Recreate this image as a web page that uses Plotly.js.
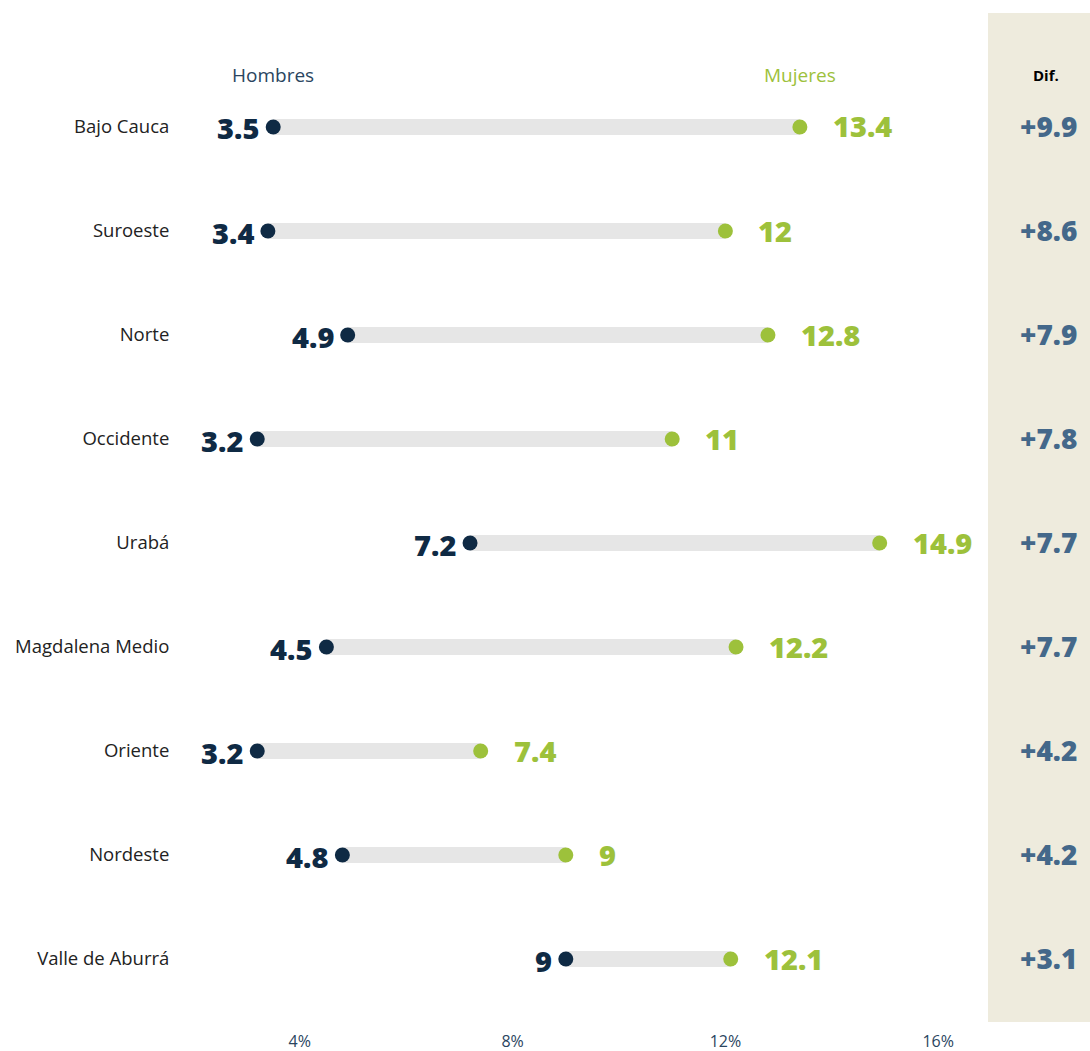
<!DOCTYPE html>
<html>
<head>
<meta charset="utf-8">
<script src="https://cdn.plot.ly/plotly-3.0.1.min.js"></script>
<style>html,body{margin:0;padding:0;background:#fff;}#chart{width:1090px;height:1051px;}</style>
</head>
<body>
<div id="chart"></div>
<script>
const regions = ['Bajo Cauca','Suroeste','Norte','Occidente','Urabá','Magdalena Medio','Oriente','Nordeste','Valle de Aburrá'];
const hombres = [3.5, 3.4, 4.9, 3.2, 7.2, 4.5, 3.2, 4.8, 9];
const mujeres = [13.4, 12, 12.8, 11, 14.9, 12.2, 7.4, 9, 12.1];
const tickVals = [4, 8, 12, 16];
const tickText = ['4%', '8%', '12%', '16%'];

const W = 1090, H = 1051;
const navy = '#0f2a44', green = '#9dc13b', steel = '#44688a';
const numFont = 'Open Sans, sans-serif';
const lblFont = 'Open Sans, sans-serif';

const segX = [], segY = [];
regions.forEach((r, i) => { segX.push(hombres[i], mujeres[i], null); segY.push(r, r, null); });

const traces = [
  {type:'scatter', mode:'lines', x:segX, y:segY, line:{color:'#e6e6e6', width:16}, hoverinfo:'skip', showlegend:false, connectgaps:false},
  {type:'scatter', mode:'markers', x:hombres, y:regions, marker:{color:navy, size:15}, showlegend:false},
  {type:'scatter', mode:'markers', x:mujeres, y:regions, marker:{color:green, size:15}, showlegend:false}
];

const ann = [];
regions.forEach((r, i) => {
  ann.push({x:hombres[i], y:r, xref:'x', yref:'y', text:String(hombres[i]), showarrow:false,
    xanchor:'right', yanchor:'middle', xshift:-12, yshift:-1,
    font:{family:numFont, size:29, color:navy, weight:800}});
  ann.push({x:mujeres[i], y:r, xref:'x', yref:'y', text:String(mujeres[i]), showarrow:false,
    xanchor:'left', yanchor:'middle', xshift:31, yshift:1,
    font:{family:numFont, size:29, color:green, weight:800}});
  const d = mujeres[i] - hombres[i];
  ann.push({x:1048/W, y:r, xref:'paper', yref:'y', text:'+' + d.toFixed(1), showarrow:false,
    xanchor:'center', yanchor:'middle', yshift:1,
    font:{family:numFont, size:28, color:steel, weight:800}});
});
ann.push({x:hombres[0], y:1-75/H, xref:'x', yref:'paper', text:'Hombres', showarrow:false, xanchor:'center', yanchor:'middle',
  font:{family:lblFont, size:19, color:'#2a4560'}});
ann.push({x:mujeres[0], y:1-75/H, xref:'x', yref:'paper', text:'Mujeres', showarrow:false, xanchor:'center', yanchor:'middle',
  font:{family:lblFont, size:19, color:green}});
ann.push({x:1046/W, y:1-75/H, xref:'paper', yref:'paper', text:'Dif.', showarrow:false, xanchor:'center', yanchor:'middle',
  font:{family:lblFont, size:15, color:'#000', weight:700}});

const x0 = 180, x1 = 985, zero = 87, ppu = 53.2;
const layout = {
  width:W, height:H,
  margin:{l:0, r:0, t:0, b:0},
  paper_bgcolor:'#fff', plot_bgcolor:'rgba(0,0,0,0)',
  showlegend:false,
  xaxis:{domain:[x0/W, x1/W], range:[(x0-zero)/ppu, (x1-zero)/ppu], showgrid:false, zeroline:false, showline:false,
    tickmode:'array', tickvals:tickVals, ticktext:tickText, ticks:'outside', ticklen:16, tickcolor:'rgba(0,0,0,0)',
    tickfont:{family:lblFont, size:16, color:'#2a4560'}, fixedrange:true},
  yaxis:{domain:[1-1011/H, 1-75/H], type:'category', categoryorder:'array', categoryarray:regions, range:[8.5, -0.5],
    showgrid:false, zeroline:false, showline:false, ticks:'outside', ticklen:6, tickcolor:'rgba(0,0,0,0)',
    tickfont:{family:lblFont, size:18.5, color:'#222'}, fixedrange:true},
  shapes:[{type:'rect', xref:'paper', yref:'paper', x0:988/W, x1:1, y0:1-1022/H, y1:1-13/H,
    fillcolor:'#eeebdd', line:{width:0}, layer:'below'}],
  annotations:ann
};
Plotly.newPlot('chart', traces, layout, {displayModeBar:false, staticPlot:true});
</script>
</body>
</html>
